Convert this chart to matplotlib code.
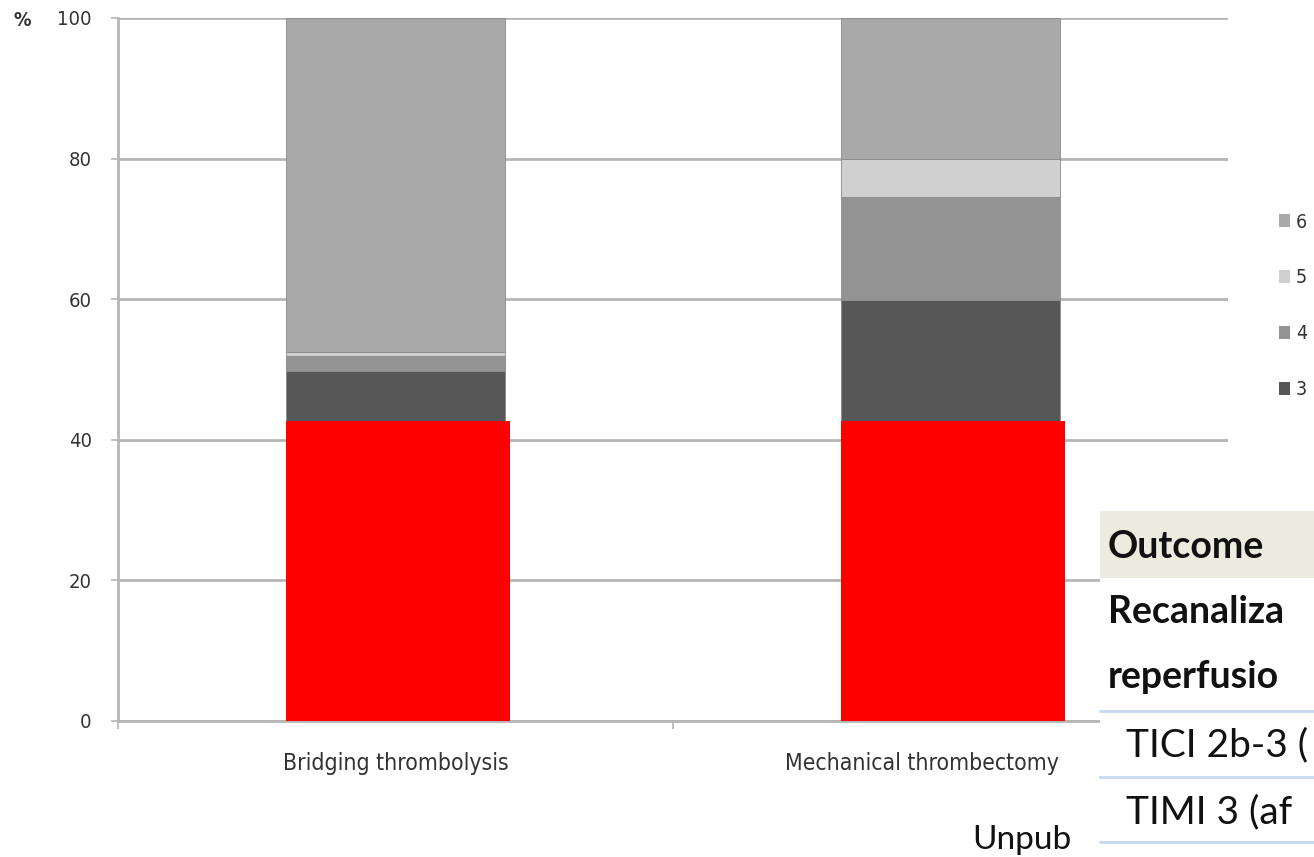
import matplotlib.pyplot as plt
import matplotlib.transforms as mtransforms
from matplotlib.patches import Rectangle, Patch
from matplotlib.lines import Line2D

# data
groups = ["Bridging thrombolysis", "Mechanical thrombectomy"]
red_base = [42.7, 42.7]
grade_labels = ["3", "4", "5", "6"]
grade_values = {
    "3": [7.1, 17.2],
    "4": [2.1, 14.6],
    "5": [0.6, 5.5],
    "6": [47.5, 20.0],
}
grade_colors = {"3": "#575757", "4": "#939393", "5": "#d0d0d0", "6": "#a9a9a9"}
y_ticks = [0, 20, 40, 60, 80, 100]

# the table pasted over the chart is cut off at the right edge of the slide
table_rows = ["Outcome", "Recanaliza", "reperfusio", "TICI 2b-3 (", "TIMI 3 (af"]
source_note = "Unpub"

W, H = 1314, 857
fig = plt.figure(figsize=(W / 100, H / 100), dpi=100)
ax = fig.add_axes([118 / W, 1 - 721 / H, 1110 / W, 703 / H])


def fx(px):
    return px / W


def fy(py):
    return 1 - py / H


x = list(range(len(groups)))
bw = 0.396
ax.bar([i - bw / 2 for i in x], red_base, width=0.405, align="edge", color="#ff0000", zorder=3)
bottom = list(red_base)
for g in grade_labels:
    ax.bar(x, grade_values[g], width=bw, bottom=bottom, color=grade_colors[g],
           edgecolor="#8a8a8a", linewidth=0.6, zorder=2)
    bottom = [b + v for b, v in zip(bottom, grade_values[g])]

ax.set_xlim(-0.5, 1.5)
ax.set_ylim(0, 100)
ax.set_yticks(y_ticks)
ax.yaxis.grid(True, color="#b5b5b5", linewidth=2, zorder=0)
ax.set_axisbelow(True)
for s in ["top", "right"]:
    ax.spines[s].set_visible(False)
for s in ["left", "bottom"]:
    ax.spines[s].set_color("#b5b5b5")
    ax.spines[s].set_linewidth(2)

ax.set_xticks([-0.5, 0.5, 1.5])
ax.set_xticklabels([])
ax.set_xticks(x, minor=True)
ax.set_xticklabels(groups, minor=True)
ax.tick_params(axis="x", which="minor", length=0, pad=22, labelsize=16.5, labelcolor="#333333")
ax.tick_params(axis="x", which="major", length=6, width=1.2, color="#b5b5b5")
ax.tick_params(axis="y", length=5, width=1.2, color="#b5b5b5", labelsize=14.5, labelcolor="#333333", pad=14)
for lab in ax.get_xticklabels(minor=True) + ax.get_yticklabels():
    lab.set_family("DejaVu Sans")
    lab.set_fontstretch("condensed")

# second category label sits a bit left of its bar in the original
shift = mtransforms.ScaledTranslation(-0.29, 0, fig.dpi_scale_trans)
lab2 = ax.get_xticklabels(minor=True)[1]
lab2.set_transform(lab2.get_transform() + shift)

fig.text(fx(13), fy(21), "%", fontsize=14, fontweight="bold", color="#333333", va="center",
         family="DejaVu Sans", fontstretch="condensed")

handles = [Patch(facecolor=grade_colors[g], edgecolor="none") for g in reversed(grade_labels)]
fig.legend(handles, list(reversed(grade_labels)), loc="upper left",
           bbox_to_anchor=(fx(1261), fy(195)), frameon=False,
           prop=dict(size=14, family="DejaVu Sans", stretch="condensed"),
           handlelength=0.6, handleheight=0.6, handletextpad=0.3, labelspacing=1.9,
           labelcolor="#333333")

# overlaid table and source note
fig.text(fx(972), fy(840), source_note, fontsize=24, va="center", color="#111111",
         family=["Lato", "DejaVu Sans"])
fig.patches.append(Rectangle((fx(1100), 0), 1 - fx(1100), fy(505), transform=fig.transFigure,
                             facecolor="white", edgecolor="none", zorder=5))
fig.patches.append(Rectangle((fx(1100), fy(578)), 1 - fx(1100), fy(511) - fy(578),
                             transform=fig.transFigure, facecolor="#ecebe0", edgecolor="none", zorder=6))
for py in [711, 777, 842]:
    fig.add_artist(Line2D([fx(1100), 1], [fy(py), fy(py)], transform=fig.transFigure,
                          color="#c6d9f1", linewidth=2, zorder=7))
row_y = [547, 612, 677, 745, 812]
row_x = [1108, 1108, 1108, 1126, 1126]
for i, (txt, py, px) in enumerate(zip(table_rows, row_y, row_x)):
    bold = i < 3
    fig.text(fx(px), fy(py), txt, fontsize=27 if bold else 28, va="center", zorder=8,
             fontweight="bold" if bold else "normal", color="#111111",
             family=["Lato", "DejaVu Sans"])

fig.savefig("out.png", dpi=100)
